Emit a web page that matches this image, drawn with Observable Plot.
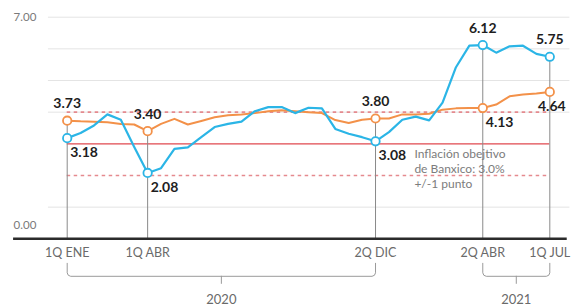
<!DOCTYPE html>
<html><head><meta charset="utf-8">
<script src="https://cdn.jsdelivr.net/npm/d3@7"></script>
<script src="https://cdn.jsdelivr.net/npm/@observablehq/plot@0.6"></script>
<style>
body{margin:0;background:#fff;}
</style></head><body><div id="chart"></div>
<script>
// 37 quincenas: 1Q ENE 2020 ... 1Q JUL 2021
const meses = ["ENE","FEB","MAR","ABR","MAY","JUN","JUL","AGO","SEP","OCT","NOV","DIC"];
const periodos = [];
for (const anio of [2020, 2021]) for (const m of meses) for (const q of ["1Q","2Q"]) periodos.push(`${q} ${m} ${anio}`);
periodos.length = 37;

// Inflación general (azul)
const general = [3.18,3.34,3.58,3.93,3.76,2.90,2.08,2.23,2.84,2.89,3.21,3.53,3.63,3.70,4.03,4.16,4.16,3.97,4.14,4.12,3.47,3.32,3.21,3.08,3.37,3.76,3.86,3.74,4.30,5.42,6.10,6.12,5.88,6.08,6.10,5.84,5.75];
// Inflación subyacente (naranja)
const subyacente = [3.73,3.71,3.70,3.68,3.63,3.61,3.40,3.63,3.79,3.61,3.72,3.84,3.90,3.93,3.97,4.03,4.06,4.03,4.00,3.97,3.75,3.66,3.76,3.80,3.80,3.93,3.93,3.95,4.08,4.12,4.13,4.13,4.24,4.50,4.56,4.59,4.64];

const destacados = [0, 6, 23, 31, 36];
const etiquetasX = ["1Q ENE","1Q ABR","2Q DIC","2Q ABR","1Q JUL"];
const anios = ["2020","2021"];
const aniosDesde = [0, 31];
const aniosHasta = [23, 36];
const etiquetasY = ["7.00","0.00"];
const valoresY = [7, 0];
const gridY = [1, 4, 5, 6, 7];
const meta = 3.0;
const banda = [2.0, 4.0];
const nota = ["Inflación obejtivo","de Banxico: 3.0%","+/-1 punto"];

const azul = "#2bb5e6", naranja = "#f39149";
const pxY = 31.65; // px per unit (for offsets below the baseline)
const off = px => -px / pxY;
const pxX = 13.407;

const serieG = general.map((v,i)=>({i, v}));
const serieS = subyacente.map((v,i)=>({i, v}));
const puntos = destacados.map(i=>({i, g: general[i], s: subyacente[i], top: Math.max(general[i], subyacente[i])}));

// labels: upper series above (centered), lower series below
const lab = [];
destacados.forEach((i,k)=>{
  const g = general[i], s = subyacente[i];
  const upper = g > s ? g : s, lower = g > s ? s : g;
  lab.push({i, v: upper, t: upper.toFixed(2), pos: "up"});
  lab.push({i, v: lower, t: lower.toFixed(2), pos: k === 4 ? "downc" : "down"});
});

// braces
const braces = [];
anios.forEach((a,k)=>{
  const x0 = aniosDesde[k], x1 = aniosHasta[k];
  const top = off(24.5), hy = off(37.5), r = 3.5, rx = r / pxX, ry = r / pxY;
  [[x0,top],[x0,hy+ry],[x0+rx*0.3,hy+ry*0.3],[x0+rx,hy],[x1-rx,hy],[x1-rx*0.3,hy+ry*0.3],[x1,hy+ry],[x1,top]]
    .forEach(([x,y])=>braces.push({k, x, y}));
});
const braceTicks = anios.map((a,k)=>({x:(aniosDesde[k]+aniosHasta[k])/2, a}));

const font = "Lato, 'Open Sans', sans-serif";
const notaData = nota.map((t,j)=>({t, y: meta + off(10 + 15*j)}));

const chart = Plot.plot({
  width: 580, height: 306,
  marginLeft: 0, marginRight: 0, marginTop: 0, marginBottom: 0,
  style: {fontFamily: font, background: "#fff"},
  x: {domain: [0, 36], range: [66.7, 549.3], axis: null},
  y: {domain: [0, 7], range: [238.3, 16.7], axis: null},
  marks: [
    Plot.ruleY(gridY, {x1: -1.4, x2: 37.5, stroke: "#e4e4e4", strokeWidth: 1}),
    Plot.ruleY(banda, {x1: 0, x2: 36, stroke: "#e58a8f", strokeWidth: 1.6, strokeDasharray: "3.5,3.5"}),
    Plot.ruleY([meta], {x1: 0, x2: 36, stroke: "#e0484f", strokeWidth: 1.3}),
    Plot.ruleX(puntos, {x: "i", y1: 0, y2: "top", stroke: "#8a8a8a", strokeWidth: 1}),
    Plot.ruleY([0], {x1: -4.0, x2: 37.3, stroke: "#2b2b2b", strokeWidth: 2.6}),
    Plot.line(serieS, {x: "i", y: "v", stroke: naranja, strokeWidth: 2, curve: "linear"}),
    Plot.line(serieG, {x: "i", y: "v", stroke: azul, strokeWidth: 2.2, curve: "linear"}),
    Plot.dot(puntos, {x: "i", y: "s", r: 4.2, fill: "#fff", stroke: naranja, strokeWidth: 1.8}),
    Plot.dot(puntos, {x: "i", y: "g", r: 4.2, fill: "#fff", stroke: azul, strokeWidth: 1.8}),
    Plot.text(lab.filter(d=>d.pos==="up"), {x: "i", y: "v", text: "t", dy: -17, fontSize: 14, fontWeight: 700, fill: "#1e1e1e"}),
    Plot.text(lab.filter(d=>d.pos==="down"), {x: "i", y: "v", text: "t", dy: 14.5, dx: 3, textAnchor: "start", fontSize: 14, fontWeight: 700, fill: "#1e1e1e"}),
    Plot.text(lab.filter(d=>d.pos==="downc"), {x: "i", y: "v", text: "t", dy: 15, dx: 2, fontSize: 14, fontWeight: 700, fill: "#1e1e1e"}),
    Plot.text(notaData, {x: 25.9, y: "y", text: "t", textAnchor: "start", fontSize: 12, fontWeight: 400, fill: "#7c7c7c"}),
    Plot.text([etiquetasY[0]], {x: -4.0, y: valoresY[0], text: d => d, textAnchor: "start", fontSize: 11.5, fill: "#7a7a7a"}),
    Plot.text([etiquetasY[1]], {x: -4.0, y: valoresY[1], dy: -13, text: d => d, textAnchor: "start", fontSize: 11.5, fill: "#7a7a7a"}),
    Plot.text(etiquetasX.map((t,j)=>({t, i: destacados[j]})), {x: "i", y: 0, dy: 13.7, text: "t", fontSize: 12.5, fontWeight: 400, fill: "#6a6a6a"}),
    Plot.line(braces, {x: "x", y: "y", z: "k", stroke: "#9a9a9a", strokeWidth: 1}),
    Plot.ruleX(braceTicks, {x: "x", y1: off(37.5), y2: off(45.5), stroke: "#9a9a9a", strokeWidth: 1}),
    Plot.text(braceTicks, {x: "x", y: off(60.7), text: "a", fontSize: 13, fill: "#6a6a6a"})
  ]
});
document.getElementById("chart").appendChild(chart);
</script></body></html>
